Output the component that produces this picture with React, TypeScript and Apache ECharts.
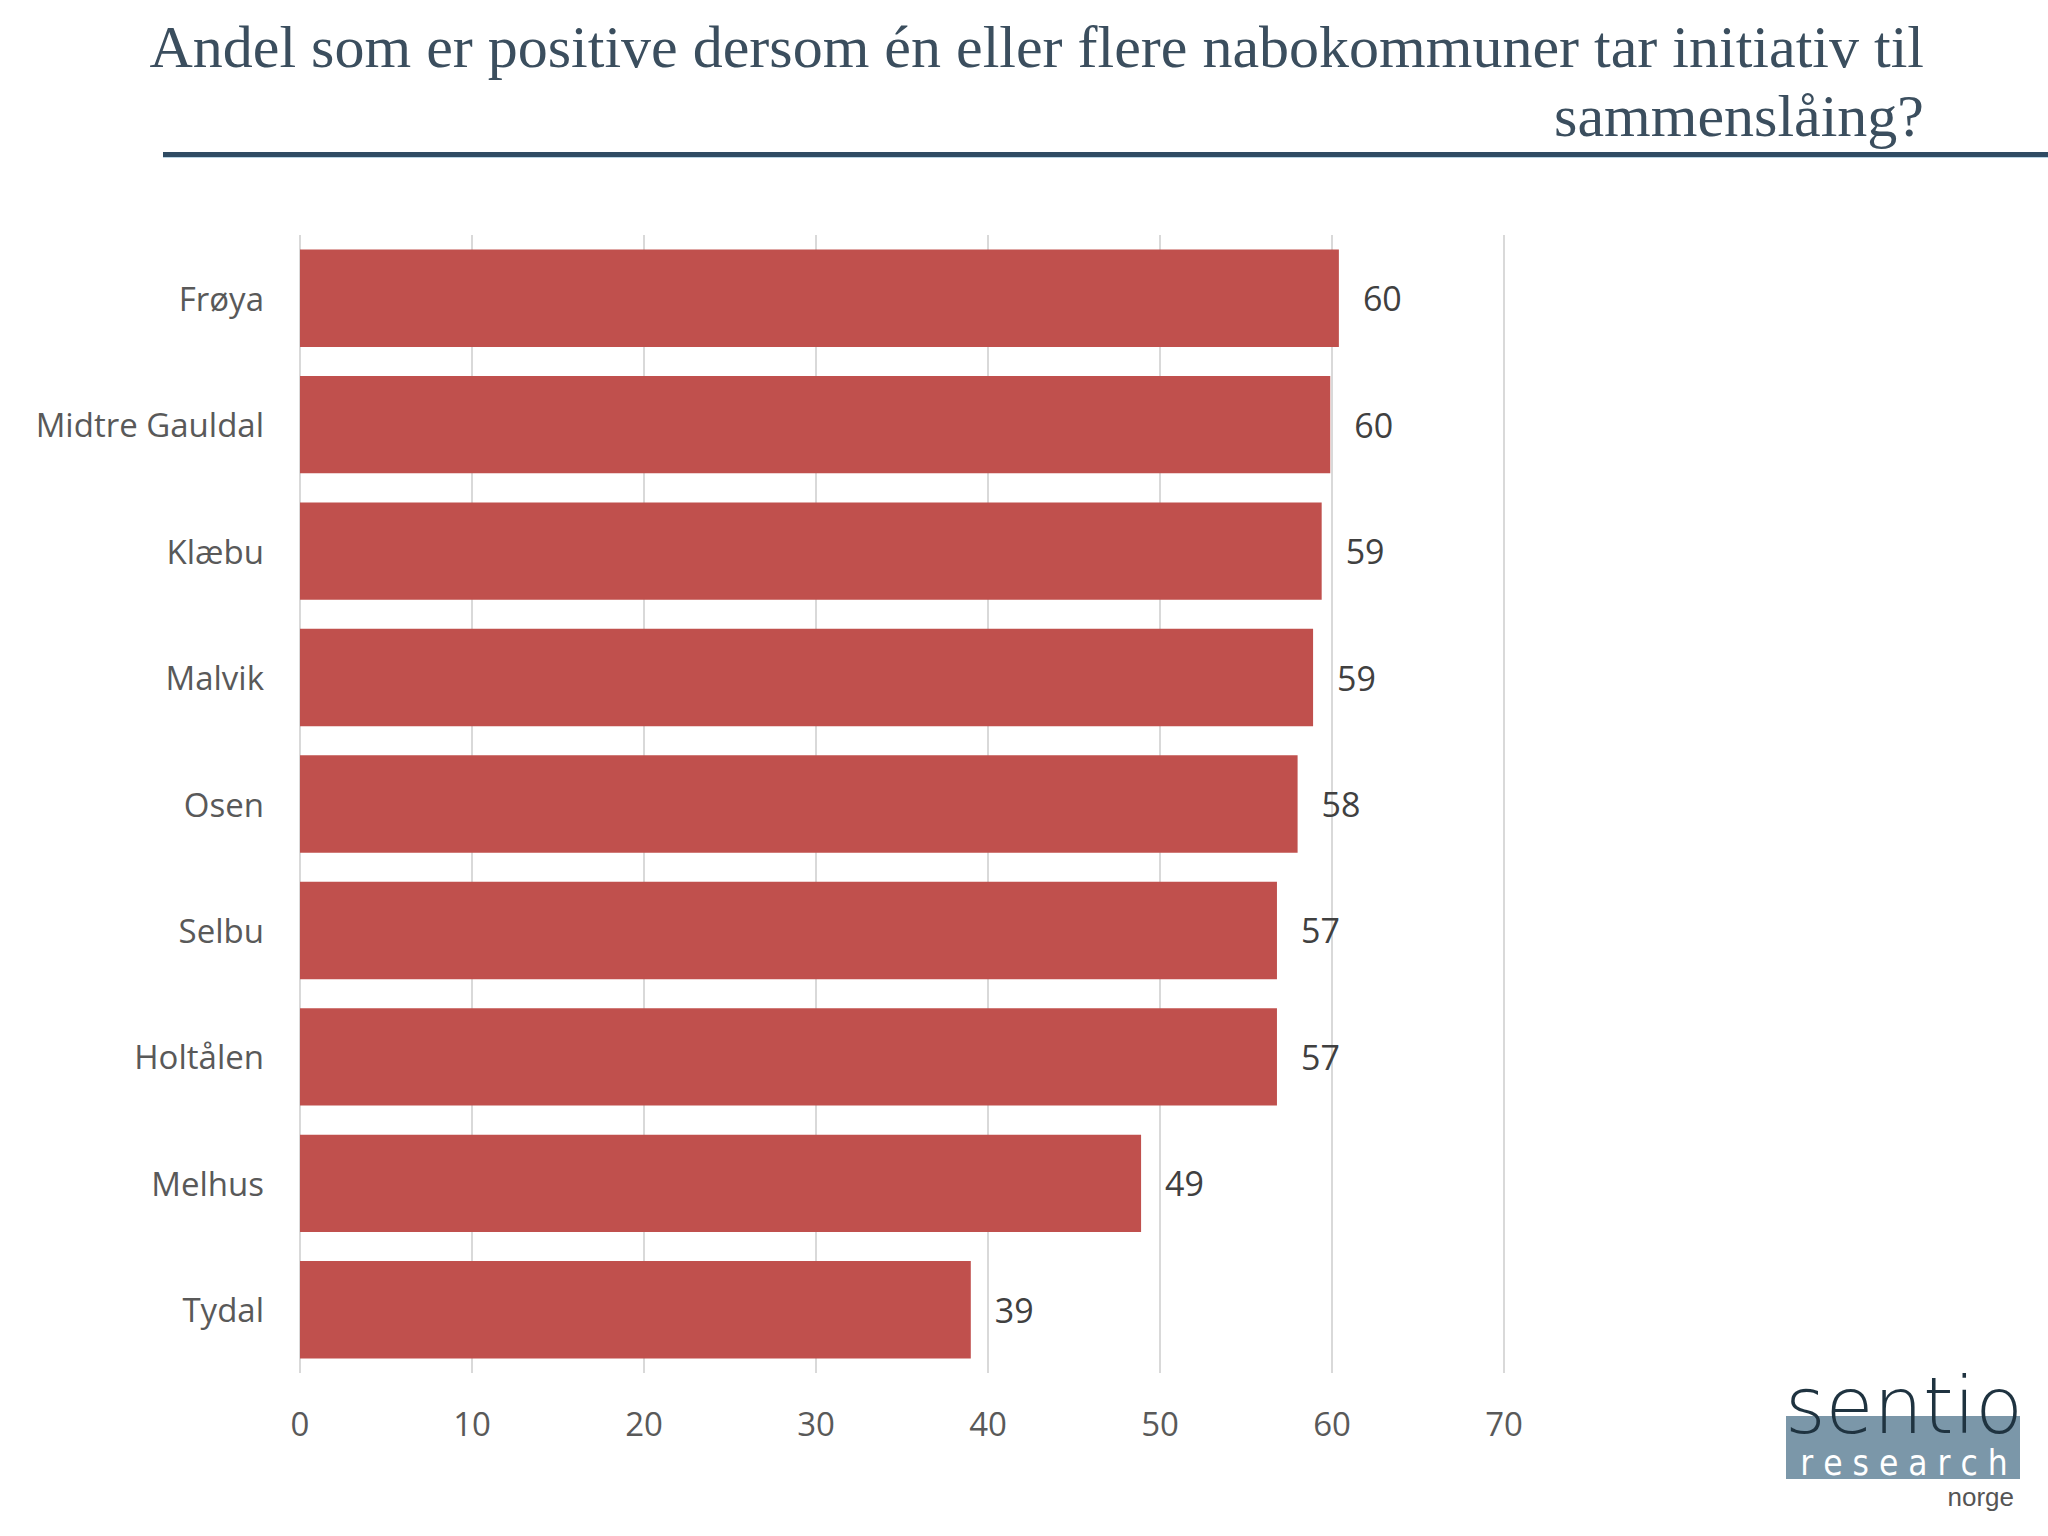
import React, { useEffect, useRef } from "react";
import * as echarts from "echarts";

const categories = ["Frøya", "Midtre Gauldal", "Klæbu", "Malvik", "Osen", "Selbu", "Holtålen", "Melhus", "Tydal"];
const values = [60.4, 59.9, 59.4, 58.9, 58.0, 56.8, 56.8, 48.9, 39.0];
const titleLines = ["Andel som er positive dersom én eller flere nabokommuner tar initiativ til", "sammenslåing?"];

export default function App() {
  const ref = useRef<HTMLDivElement>(null);
  useEffect(() => {
    document.body.style.margin = "0";
    const chart = echarts.init(ref.current!, undefined, { renderer: "svg" });
    chart.setOption({
      animation: false,
      backgroundColor: "#ffffff",
      grid: { left: 300, right: 544, top: 235, bottom: 163, containLabel: false },
      xAxis: {
        type: "value",
        min: 0,
        max: 70,
        interval: 10,
        axisLine: { show: false },
        axisTick: { show: false },
        splitLine: { show: true, lineStyle: { color: "#d9d9d9", width: 2 } },
        axisLabel: { fontFamily: "Open Sans", fontSize: 33, color: "#595959", margin: 34 },
      },
      yAxis: {
        type: "category",
        data: categories,
        inverse: true,
        axisLine: { show: false },
        axisTick: { show: false },
        axisLabel: { fontFamily: "Open Sans", fontSize: 33, color: "#595959", margin: 36 },
      },
      series: [
        {
          type: "bar",
          data: values,
          barCategoryGap: "23%",
          itemStyle: { color: "#c0504d" },
          label: {
            show: true,
            position: "right",
            distance: 24,
            fontFamily: "Open Sans",
            fontSize: 34,
            color: "#404040",
            formatter: (p: any) => String(Math.round(p.value)),
          },
        },
      ],
      graphic: [
        {
          type: "text",
          x: 1924,
          y: 12,
          style: {
            text: titleLines.join("\n"),
            align: "right",
            fontFamily: "Liberation Serif",
            fontSize: 60,
            lineHeight: 69,
            fill: "#3b4e5e",
          },
        },
        { type: "rect", shape: { x: 163, y: 152, width: 1885, height: 5 }, style: { fill: "#2f4b63" } },
        { type: "rect", shape: { x: 163, y: 157, width: 1885, height: 1 }, style: { fill: "#b9d4e4" } },
        { type: "rect", shape: { x: 1786, y: 1416, width: 234, height: 63 }, style: { fill: "#7b97a9" } },
        {
          type: "text",
          x: 1904,
          y: 1406,
          style: {
            text: "sentio",
            align: "center",
            verticalAlign: "middle",
            fontFamily: "DejaVu Sans",
            fontWeight: 200,
            fontSize: 78,
            lineHeight: 78,
            fill: "#1f3340",
          },
        },
        {
          type: "text",
          x: 1904,
          y: 1463,
          style: {
            text: "r e s e a r c h",
            align: "center",
            verticalAlign: "middle",
            fontFamily: "DejaVu Sans Condensed",
            fontSize: 35,
            lineHeight: 35,
            fill: "#ffffff",
          },
        },
        {
          type: "text",
          x: 2014,
          y: 1497,
          style: {
            text: "norge",
            align: "right",
            verticalAlign: "middle",
            fontFamily: "Liberation Sans",
            fontSize: 26,
            lineHeight: 26,
            fill: "#555555",
          },
        },
      ],
    });
    return () => chart.dispose();
  }, []);
  return <div ref={ref} style={{ position: "absolute", left: 0, top: 0, width: 2048, height: 1536 }} />;
}
